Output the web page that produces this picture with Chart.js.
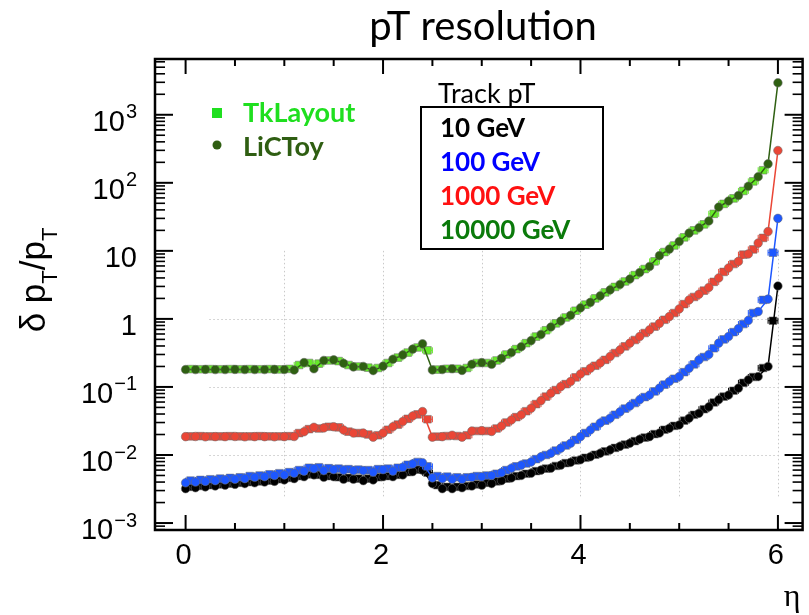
<!DOCTYPE html>
<html>
<head>
<meta charset="utf-8">
<title>pT resolution</title>
<script src="https://cdn.jsdelivr.net/npm/chart.js@4.4.1/dist/chart.umd.min.js"></script>
<style>
    html, body { margin: 0; padding: 0; background: #fff; }
    canvas { display: block; }
</style>
</head>
<body>
<canvas id="resChart" width="809" height="615"></canvas>
<script>
// eta bins
const etaLiCToy = [0.0, 0.1, 0.2, 0.3, 0.4, 0.5, 0.6, 0.7, 0.8, 0.9,
    1.0, 1.1, 1.2, 1.3, 1.4, 1.5, 1.6, 1.7, 1.8, 1.9,
    2.0, 2.1, 2.2, 2.3, 2.4, 2.5, 2.6, 2.7, 2.8, 2.9,
    3.0, 3.1, 3.2, 3.3, 3.4, 3.5, 3.6, 3.7, 3.8, 3.9,
    4.0, 4.1, 4.2, 4.3, 4.4, 4.5, 4.6, 4.7, 4.8, 4.9,
    5.0, 5.1, 5.2, 5.3, 5.4, 5.5, 5.6, 5.7, 5.8, 5.9,
    6.0];
const etaTkLayout = [0.05, 0.15, 0.25, 0.35, 0.45, 0.55, 0.65, 0.75, 0.85, 0.95,
    1.05, 1.15, 1.25, 1.35, 1.45, 1.55, 1.65, 1.75, 1.85, 1.95,
    2.05, 2.15, 2.25, 2.35, 2.45, 2.55, 2.65, 2.75, 2.85, 2.95,
    3.05, 3.15, 3.25, 3.35, 3.45, 3.55, 3.65, 3.75, 3.85, 3.95,
    4.05, 4.15, 4.25, 4.35, 4.45, 4.55, 4.65, 4.75, 4.85, 4.95,
    5.05, 5.15, 5.25, 5.35, 5.45, 5.55, 5.65, 5.75, 5.85, 5.95];

// LiCToy, dpT/pT
const licToy10 = [0.0032, 0.0033, 0.0034, 0.0035, 0.0036, 0.0037, 0.0038, 0.0039, 0.0040, 0.0041,
    0.0043, 0.0045, 0.0048, 0.0051, 0.0047, 0.0048, 0.0044, 0.0044, 0.0042, 0.0043,
    0.0048, 0.0048, 0.0051, 0.0057, 0.0060, 0.0038, 0.0032, 0.0032, 0.0033, 0.0035,
    0.0036, 0.0038, 0.0042, 0.0046, 0.0050, 0.0054, 0.0060, 0.0064, 0.0071, 0.0078,
    0.0085, 0.0094, 0.0106, 0.0119, 0.0134, 0.0149, 0.0170, 0.0186, 0.0210, 0.0247,
    0.0276, 0.0347, 0.0410, 0.0510, 0.0650, 0.0760, 0.0960, 0.1270, 0.1420, 0.2000,
    3.05];
const licToy100 = [0.0039, 0.0040, 0.0041, 0.0042, 0.0043, 0.0044, 0.0045, 0.0047, 0.0048, 0.0050,
    0.0051, 0.0054, 0.0058, 0.0063, 0.0059, 0.0061, 0.0060, 0.0059, 0.0059, 0.0056,
    0.0061, 0.0058, 0.0066, 0.0074, 0.0077, 0.0046, 0.0045, 0.0044, 0.0044, 0.0047,
    0.0048, 0.0050, 0.0055, 0.0064, 0.0071, 0.0079, 0.0094, 0.0106, 0.0126, 0.0149,
    0.0186, 0.0233, 0.0295, 0.0347, 0.0430, 0.0525, 0.0650, 0.0760, 0.0960, 0.1200,
    0.1420, 0.1880, 0.2500, 0.3000, 0.4400, 0.5500, 0.7200, 0.9500, 1.2800, 1.9500,
    30];
const licToy1000 = [0.0186, 0.0187, 0.0185, 0.0186, 0.0186, 0.0187, 0.0185, 0.0186, 0.0186, 0.0185,
    0.0186, 0.0187, 0.0220, 0.0255, 0.0250, 0.0260, 0.0233, 0.0210, 0.0210, 0.0183,
    0.0210, 0.0260, 0.0310, 0.0375, 0.0435, 0.0183, 0.0186, 0.0195, 0.0183, 0.0225,
    0.0228, 0.0222, 0.0267, 0.0327, 0.0390, 0.0486, 0.0630, 0.0810, 0.1010, 0.1200,
    0.1550, 0.1880, 0.2250, 0.2800, 0.3500, 0.4400, 0.5500, 0.6900, 0.8600, 1.0800,
    1.4000, 1.9000, 2.3000, 2.9000, 4.0000, 5.6000, 7.0000, 9.0000, 13.000, 19.200,
    298];
const licToy10000 = [0.180, 0.180, 0.181, 0.180, 0.180, 0.181, 0.180, 0.180, 0.180, 0.181,
    0.180, 0.177, 0.228, 0.185, 0.245, 0.250, 0.223, 0.197, 0.200, 0.174,
    0.202, 0.255, 0.296, 0.360, 0.430, 0.178, 0.180, 0.185, 0.175, 0.215,
    0.228, 0.215, 0.264, 0.320, 0.390, 0.480, 0.590, 0.760, 0.930, 1.130,
    1.450, 1.750, 2.180, 2.670, 3.200, 3.850, 4.800, 5.900, 8.500, 10.60,
    13.70, 18.20, 21.90, 27.50, 44.00, 54.00, 65.00, 89.00, 123.0, 190.0,
    2950];

// TkLayout, dpT/pT
const tkLayout10 = [0.0034, 0.0035, 0.0036, 0.0037, 0.0038, 0.0039, 0.0040, 0.0041, 0.0042, 0.0044,
    0.0046, 0.0049, 0.0052, 0.0051, 0.0049, 0.0047, 0.0046, 0.0045, 0.0045, 0.0047,
    0.0049, 0.0051, 0.0056, 0.0061, 0.0055, 0.0036, 0.0034, 0.0034, 0.0035, 0.0037,
    0.0039, 0.0041, 0.0045, 0.0049, 0.0053, 0.0058, 0.0063, 0.0069, 0.0076, 0.0083,
    0.0091, 0.0101, 0.0113, 0.0127, 0.0142, 0.0160, 0.0180, 0.0203, 0.0235, 0.0268,
    0.0320, 0.0390, 0.0470, 0.0590, 0.0720, 0.0880, 0.1150, 0.1400, 0.1900, 0.94];
const tkLayout100 = [0.0042, 0.0043, 0.0044, 0.0045, 0.0046, 0.0047, 0.0049, 0.0050, 0.0052, 0.0054,
    0.0056, 0.0060, 0.0065, 0.0066, 0.0064, 0.0063, 0.0062, 0.0061, 0.0060, 0.0062,
    0.0063, 0.0065, 0.0072, 0.0079, 0.0068, 0.0049, 0.0048, 0.0047, 0.0047, 0.0049,
    0.0050, 0.0053, 0.0060, 0.0068, 0.0075, 0.0087, 0.0100, 0.0116, 0.0138, 0.0167,
    0.0210, 0.0260, 0.0320, 0.0390, 0.0480, 0.0580, 0.0710, 0.0860, 0.1080, 0.1320,
    0.1650, 0.2150, 0.2750, 0.3700, 0.5000, 0.6400, 0.8400, 1.2200, 1.9000, 9.4];
const tkLayout1000 = [0.0188, 0.0189, 0.0188, 0.0188, 0.0189, 0.0188, 0.0188, 0.0189, 0.0188, 0.0188,
    0.0189, 0.0210, 0.0240, 0.0245, 0.0260, 0.0255, 0.0220, 0.0210, 0.0200, 0.0195,
    0.0235, 0.0280, 0.0340, 0.0395, 0.0335, 0.0186, 0.0190, 0.0190, 0.0195, 0.0225,
    0.0225, 0.0245, 0.0300, 0.0360, 0.0440, 0.0560, 0.0720, 0.0900, 0.1100, 0.1380,
    0.1700, 0.2050, 0.2500, 0.3150, 0.3950, 0.4900, 0.6200, 0.7700, 0.9700, 1.2200,
    1.6500, 2.1000, 2.6000, 3.5000, 4.9000, 6.4000, 8.8000, 10.500, 15.500, null];
const tkLayout10000 = [0.183, 0.182, 0.183, 0.182, 0.183, 0.182, 0.183, 0.182, 0.183, 0.181,
    0.184, 0.210, 0.225, 0.220, 0.245, 0.240, 0.210, 0.200, 0.192, 0.190,
    0.225, 0.270, 0.320, 0.380, 0.345, 0.180, 0.185, 0.185, 0.190, 0.225,
    0.225, 0.245, 0.300, 0.360, 0.440, 0.550, 0.680, 0.860, 1.050, 1.320,
    1.620, 2.000, 2.450, 2.950, 3.550, 4.400, 5.400, 7.000, 9.600, 12.00,
    15.80, 20.00, 24.50, 35.00, 49.00, 59.00, 76.00, 105.0, 153.0, null];

const trackPtLabels = ['10 GeV', '100 GeV', '1000 GeV', '10000 GeV'];

// axis ticks
const xTicksMajor = [0, 2, 4, 6];
const xTicksMinor = [0.5, 1, 1.5, 2.5, 3, 3.5, 4.5, 5, 5.5];
const xTickLabels = ['0', '2', '4', '6'];
const yDecades = [1e-3, 1e-2, 1e-1, 1, 10, 1e2, 1e3];
const yTickBase = ['10', '10', '10', '1', '10', '10', '10'];
const yTickExp = ['\u22123', '\u22122', '\u22121', '', '', '2', '3'];
const xGridLines = [1, 2, 3, 4, 5, 6];
const yGridLines = [0.01, 0.1, 1];

const markColors = ['#000000', '#1d57ff', '#ea4636', '#66ec28'];
const lineColors = ['#000000', '#1d57ff', '#ea4636', '#2f6012'];
const textColors = ['#000000', '#0000ff', '#ff1111', '#0b7a0b'];
const halo = 'rgba(110,110,110,0.55)';

function tkSet(label, vals, color, order) {
    return {
        label: label,
        data: etaTkLayout.map((x, i) => ({x: x, y: vals[i]})),
        showLine: false,
        pointStyle: 'rect',
        pointRadius: 5.4,
        pointBackgroundColor: color,
        pointBorderColor: halo,
        pointBorderWidth: 1,
        errX: 0.05,
        barColor: color,
        order: order
    };
}

function licSet(label, vals, color, order) {
    return {
        label: label,
        data: etaLiCToy.map((x, i) => ({x: x, y: vals[i]})),
        showLine: true,
        borderColor: color,
        borderWidth: 1.5,
        pointStyle: 'circle',
        pointRadius: 4.3,
        pointBackgroundColor: color,
        pointBorderColor: halo,
        pointBorderWidth: 1,
        order: order
    };
}

const datasets = [
    tkSet('TkLayout 10 GeV', tkLayout10, markColors[0], 8),
    licSet('LiCToy 10 GeV', licToy10, lineColors[0], 7),
    tkSet('TkLayout 100 GeV', tkLayout100, markColors[1], 6),
    licSet('LiCToy 100 GeV', licToy100, lineColors[1], 5),
    tkSet('TkLayout 1000 GeV', tkLayout1000, markColors[2], 4),
    licSet('LiCToy 1000 GeV', licToy1000, lineColors[2], 3),
    tkSet('TkLayout 10000 GeV', tkLayout10000, markColors[3], 2),
    licSet('LiCToy 10000 GeV', licToy10000, lineColors[3], 1)
];

function line(ctx, x1, y1, x2, y2) {
    ctx.beginPath();
    ctx.moveTo(x1, y1);
    ctx.lineTo(x2, y2);
    ctx.stroke();
}

function drawParts(ctx, parts, x, y) {
    let cx = x;
    parts.forEach(p => {
        ctx.font = p.font;
        ctx.fillText(p.t, cx, y + (p.dy || 0));
        cx += ctx.measureText(p.t).width;
    });
}

function partsWidth(ctx, parts) {
    let w = 0;
    parts.forEach(p => {
        ctx.font = p.font;
        w += ctx.measureText(p.t).width;
    });
    return w;
}

const rootStyle = {
    id: 'rootStyle',
    beforeDatasetsDraw(chart) {
        const {ctx, scales: {x, y}} = chart;
        ctx.save();
        ctx.strokeStyle = '#c9c9c9';
        ctx.lineWidth = 1;
        ctx.setLineDash([1.5, 2.5]);
        const gTop = y.getPixelForValue(10);
        const gBot = y.getPixelForValue(0.0024);
        const gLeft = x.getPixelForValue(0.24);
        const gRight = x.getPixelForValue(6);
        xGridLines.forEach(v => {
            const px = Math.round(x.getPixelForValue(v)) + 0.5;
            line(ctx, px, gTop, px, gBot);
        });
        yGridLines.forEach(v => {
            const py = Math.round(y.getPixelForValue(v)) + 0.5;
            line(ctx, gLeft, py, gRight, py);
        });
        ctx.restore();
    },
    afterDatasetDraw(chart, args) {
        const ds = chart.data.datasets[args.index];
        if (!ds.errX) return;
        const {ctx, scales: {x}} = chart;
        const meta = args.meta;
        ctx.save();
        ctx.strokeStyle = ds.barColor;
        ctx.lineWidth = 1;
        meta.data.forEach((pt, i) => {
            const d = ds.data[i];
            if (d.y === null || pt.skip) return;
            const x1 = x.getPixelForValue(d.x - ds.errX);
            const x2 = x.getPixelForValue(d.x + ds.errX);
            line(ctx, x1, pt.y, x2, pt.y);
            line(ctx, x1, pt.y - 3, x1, pt.y + 3);
            line(ctx, x2, pt.y - 3, x2, pt.y + 3);
        });
        ctx.restore();
    },
    afterDatasetsDraw(chart) {
        const {ctx, chartArea: a, scales: {x, y}} = chart;
        ctx.save();

        // frame
        ctx.strokeStyle = '#000';
        ctx.lineWidth = 2.5;
        ctx.strokeRect(a.left, a.top, a.right - a.left, a.bottom - a.top);

        // x ticks, top and bottom
        ctx.lineWidth = 2;
        xTicksMajor.forEach(v => {
            const px = x.getPixelForValue(v);
            line(ctx, px, a.bottom, px, a.bottom - 15);
            line(ctx, px, a.top, px, a.top + 15);
        });
        xTicksMinor.forEach(v => {
            const px = x.getPixelForValue(v);
            line(ctx, px, a.bottom, px, a.bottom - 7);
            line(ctx, px, a.top, px, a.top + 7);
        });

        // y ticks, left and right
        const yMin = y.min, yMax = y.max;
        for (let dec = -4; dec <= 3; dec++) {
            for (let m = 1; m <= 9; m++) {
                const v = m * Math.pow(10, dec);
                if (v < yMin || v > yMax) continue;
                const py = y.getPixelForValue(v);
                const len = m === 1 ? 18 : 10;
                ctx.lineWidth = m === 1 ? 2 : 1.6;
                line(ctx, a.left, py, a.left + len, py);
                line(ctx, a.right, py, a.right - len, py);
            }
        }

        // tick labels
        ctx.fillStyle = '#000';
        ctx.textBaseline = 'middle';
        ctx.textAlign = 'center';
        ctx.font = '29px "Liberation Sans", Arial, sans-serif';
        xTicksMajor.forEach((v, i) => {
            ctx.fillText(xTickLabels[i], x.getPixelForValue(v) - 2, 556);
        });

        ctx.textAlign = 'right';
        yDecades.forEach((v, i) => {
            const py = y.getPixelForValue(v);
            let right = 137;
            if (yTickExp[i]) {
                ctx.font = '20px "Liberation Sans", Arial, sans-serif';
                ctx.fillText(yTickExp[i], right, py - 2);
                right -= ctx.measureText(yTickExp[i]).width + 1;
            }
            ctx.font = '29px "Liberation Sans", Arial, sans-serif';
            ctx.fillText(yTickBase[i], right, py + 8);
        });

        // axis titles
        ctx.font = '32px "Liberation Serif", "DejaVu Serif", serif';
        ctx.textAlign = 'center';
        ctx.fillText('\u03b7', 792, 598);

        ctx.save();
        ctx.translate(45, 280);
        ctx.rotate(-Math.PI / 2);
        ctx.textAlign = 'left';
        ctx.textBaseline = 'alphabetic';
        const big = '35px "Liberation Sans", Arial, sans-serif';
        const small = '22px "Liberation Sans", Arial, sans-serif';
        const yTitle = [
            {t: '\u03b4 p', font: big},
            {t: 'T', font: small, dy: 12},
            {t: '/p', font: big},
            {t: 'T', font: small, dy: 12}
        ];
        drawParts(ctx, yTitle, -partsWidth(ctx, yTitle) / 2, 0);
        ctx.restore();

        // title
        ctx.textAlign = 'center';
        ctx.textBaseline = 'middle';
        ctx.font = '40px Lato, "Open Sans", sans-serif';
        ctx.fillText('pT resolution', 483, 27);

        // marker legend
        ctx.fillStyle = '#1fdf1f';
        ctx.fillRect(212, 108, 10, 10);
        ctx.textAlign = 'left';
        ctx.font = 'bold 27px Lato, sans-serif';
        ctx.fillText('TkLayout', 243, 113);
        ctx.fillStyle = '#2f5e12';
        ctx.beginPath();
        ctx.arc(217, 145, 4.5, 0, Math.PI * 2);
        ctx.fill();
        ctx.fillText('LiCToy', 243, 147);

        // track pT legend
        ctx.fillStyle = '#000';
        ctx.font = '27px Lato, sans-serif';
        ctx.fillText('Track pT', 438, 94);
        ctx.lineWidth = 2;
        ctx.strokeStyle = '#000';
        ctx.strokeRect(421, 107, 182, 142);
        ctx.font = 'bold 26px Lato, sans-serif';
        trackPtLabels.forEach((t, i) => {
            ctx.fillStyle = textColors[i];
            ctx.fillText(t, 440, 129 + i * 34);
        });

        ctx.restore();
    }
};

new Chart(document.getElementById('resChart'), {
    type: 'scatter',
    data: {datasets: datasets},
    options: {
        responsive: false,
        animation: false,
        devicePixelRatio: 1,
        events: [],
        layout: {padding: {left: 155, top: 59, right: 0, bottom: 85}},
        scales: {
            x: {type: 'linear', min: -0.31, max: 6.25, display: false},
            y: {type: 'logarithmic', min: 7.9e-4, max: 6.6e3, display: false}
        },
        plugins: {
            legend: {display: false},
            tooltip: {enabled: false},
            title: {display: false}
        }
    },
    plugins: [rootStyle]
});
</script>
</body>
</html>
